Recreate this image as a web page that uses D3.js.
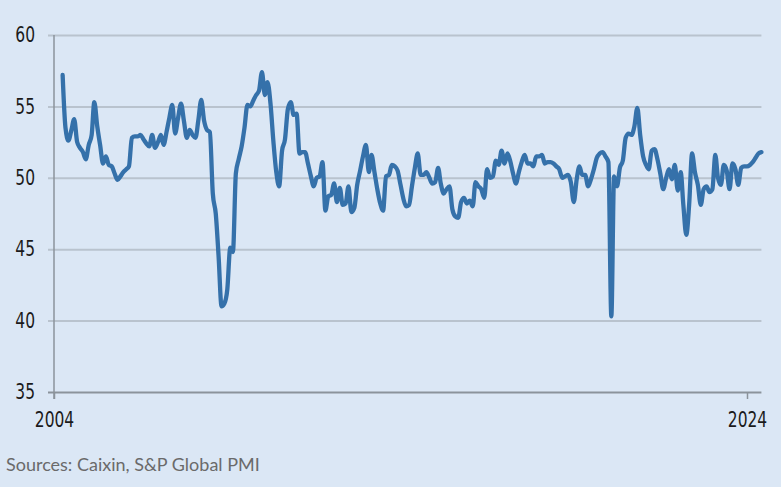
<!DOCTYPE html>
<html>
<head>
<meta charset="utf-8">
<script src="https://cdn.jsdelivr.net/npm/d3@7"></script>
<style>
    body { margin: 0; background: #dbe7f5; }
    .tick-label { font-family: "Liberation Sans Narrow", "DejaVu Sans Condensed", sans-serif; font-size: 21px; fill: #1b1b1b; }
    .source { font-family: "Lato", "Open Sans", sans-serif; font-size: 18px; fill: #6a6a6a; }
</style>
</head>
<body>
<div id="chart"></div>
<script>
// Caixin China manufacturing PMI, monthly, first value April 2004
const startMonth = [2004, 3];
const pmi2004 = [57.2, 53.5, 52.6, 53.3, 54.1, 52.5, 52.1, 51.8, 51.3];
const pmi2005 = [52.3, 53.0, 55.3, 53.6, 52.3, 51.0, 51.5, 50.9, 50.8, 50.3, 49.85, 50.1];
const pmi2006 = [50.4, 50.6, 50.8, 52.8, 52.9, 52.9, 53.0, 52.7, 52.4, 52.2, 53.0, 52.1];
const pmi2007 = [52.5, 53.0, 52.3, 53.2, 54.2, 55.1, 53.1, 54.2, 55.2, 54.0, 52.8, 53.35];
const pmi2008 = [53.0, 52.8, 54.0, 55.45, 54.0, 53.35, 53.2, 48.9, 47.5, 44.5, 41.0, 41.2];
const pmi2009 = [42.2, 45.1, 44.8, 50.3, 51.3, 52.2, 53.5, 55.1, 55.0, 55.4, 55.8, 56.1];
const pmi2010 = [57.4, 55.8, 56.7, 55.2, 52.6, 50.4, 49.4, 51.9, 52.7, 54.8, 55.3, 54.4];
const pmi2011 = [54.5, 51.7, 51.8, 51.8, 51.0, 50.1, 49.4, 50.0, 50.1, 51.1, 47.7, 48.7];
const pmi2012 = [48.8, 49.6, 48.3, 49.3, 48.1, 48.2, 49.4, 47.6, 47.9, 49.5, 50.5, 51.5];
const pmi2013 = [52.3, 50.4, 51.6, 50.4, 49.2, 48.2, 47.7, 50.1, 50.2, 50.9, 50.8, 50.5];
const pmi2014 = [49.5, 48.5, 48.0, 48.1, 49.4, 50.7, 51.7, 50.2, 50.2, 50.4, 50.0, 49.6];
const pmi2015 = [49.7, 50.7, 49.6, 48.9, 49.2, 49.4, 47.8, 47.3, 47.2, 48.3, 48.6, 48.2];
const pmi2016 = [48.4, 48.0, 49.7, 49.4, 49.2, 48.6, 50.6, 50.0, 50.1, 51.2, 50.9, 51.9];
const pmi2017 = [51.0, 51.7, 51.2, 50.3, 49.6, 50.4, 51.1, 51.6, 51.0, 51.0, 50.8, 51.5];
const pmi2018 = [51.5, 51.6, 51.0, 51.1, 51.1, 51.0, 50.8, 50.6, 50.0, 50.1, 50.2, 49.7];
const pmi2019 = [48.3, 49.9, 50.8, 50.2, 50.2, 49.4, 49.9, 50.6, 51.4, 51.7, 51.8, 51.5];
const pmi2020 = [51.1, 40.3, 50.1, 49.4, 50.7, 51.2, 52.8, 53.1, 53.0, 53.6, 54.9, 53.0];
const pmi2021 = [51.5, 50.9, 50.6, 51.9, 52.0, 51.3, 50.3, 49.2, 50.0, 50.6, 49.9, 50.9];
const pmi2022 = [49.1, 50.4, 48.1, 46.0, 48.1, 51.7, 50.4, 49.5, 48.1, 49.2, 49.4, 49.0];
const pmi2023 = [49.2, 51.6, 50.0, 49.5, 50.9, 50.5, 49.2, 51.0, 50.6, 49.5, 50.7, 50.8];
const pmi2024 = [50.8, 50.9, 51.1, 51.4, 51.7, 51.8];

const yTicks = [35, 40, 45, 50, 55, 60];
const xTickYears = [2004, 2024];
const sourceText = "Sources: Caixin, S&P Global PMI";

const values = [].concat(pmi2004, pmi2005, pmi2006, pmi2007, pmi2008, pmi2009, pmi2010,
    pmi2011, pmi2012, pmi2013, pmi2014, pmi2015, pmi2016, pmi2017, pmi2018, pmi2019,
    pmi2020, pmi2021, pmi2022, pmi2023, pmi2024);

const data = values.map(function(v, i) {
    return { date: new Date(startMonth[0], startMonth[1] + i, 1), value: v };
});

const width = 781,
    height = 487;

const margin = { top: 35, right: 19, bottom: 95, left: 54 };

const svg = d3.select("#chart").append("svg")
    .attr("width", width)
    .attr("height", height);

svg.append("rect")
    .attr("width", width)
    .attr("height", height)
    .style("fill", "#dbe7f5");

const x = d3.scaleTime()
    .domain([new Date(2004, 0, 1), new Date(2024, 0, 1)])
    .range([margin.left, 747]);

const y = d3.scaleLinear()
    .domain([35, 60])
    .range([height - margin.bottom, margin.top]);

const xEnd = x(data[data.length - 1].date);

// narrow the label glyphs a little, the installed condensed face is still too wide
const squeeze = 0.82;

///////////////////////////////////////////////////////////////////////////
///////////////////////////// Grid and axes ///////////////////////////////
///////////////////////////////////////////////////////////////////////////

const yAxis = d3.axisLeft(y)
    .tickValues(yTicks)
    .tickSize(-(xEnd - margin.left))
    .tickSizeOuter(0);

const gy = svg.append("g")
    .attr("transform", "translate(" + margin.left + ",0)")
    .call(yAxis);

gy.select(".domain").remove();
gy.selectAll(".tick line")
    .attr("x1", -6)
    .style("stroke", function(d) { return d === 35 ? "#8b939b" : "#b9c3ce"; })
    .style("stroke-width", 2);
gy.selectAll(".tick text")
    .attr("class", "tick-label")
    .attr("font-family", null)
    .attr("font-size", null)
    .attr("x", 0)
    .attr("transform", "translate(-19,0) scale(" + squeeze + ",1)");

// vertical axis line (also the 2004 tick)
svg.append("line")
    .attr("x1", margin.left).attr("x2", margin.left)
    .attr("y1", y(60)).attr("y2", y(35) + 7)
    .style("stroke", "#8b939b")
    .style("stroke-width", 1.5);

const xAxis = d3.axisBottom(x)
    .tickValues(xTickYears.map(function(yr) { return new Date(yr, 0, 1); }))
    .tickFormat(d3.timeFormat("%Y"))
    .tickSize(7)
    .tickSizeOuter(0)
    .tickPadding(13);

const gx = svg.append("g")
    .attr("transform", "translate(0," + y(35) + ")")
    .call(xAxis);

gx.select(".domain").remove();
gx.selectAll(".tick line")
    .style("stroke", "#8b939b")
    .style("stroke-width", 1.5);
gx.selectAll(".tick text")
    .attr("class", "tick-label")
    .attr("font-family", null)
    .attr("font-size", null)
    .attr("transform", "scale(" + squeeze + ",1)");

///////////////////////////////////////////////////////////////////////////
/////////////////////////////// The line //////////////////////////////////
///////////////////////////////////////////////////////////////////////////

const line = d3.line()
    .x(function(d) { return x(d.date); })
    .y(function(d) { return y(d.value); })
    .curve(d3.curveMonotoneX);

svg.append("path")
    .datum(data)
    .attr("d", line)
    .style("fill", "none")
    .style("stroke", "#3571aa")
    .style("stroke-width", 4.3)
    .style("stroke-linejoin", "round")
    .style("stroke-linecap", "round");

svg.append("text")
    .attr("class", "source")
    .attr("x", 6)
    .attr("y", 471)
    .text(sourceText);
</script>
</body>
</html>
